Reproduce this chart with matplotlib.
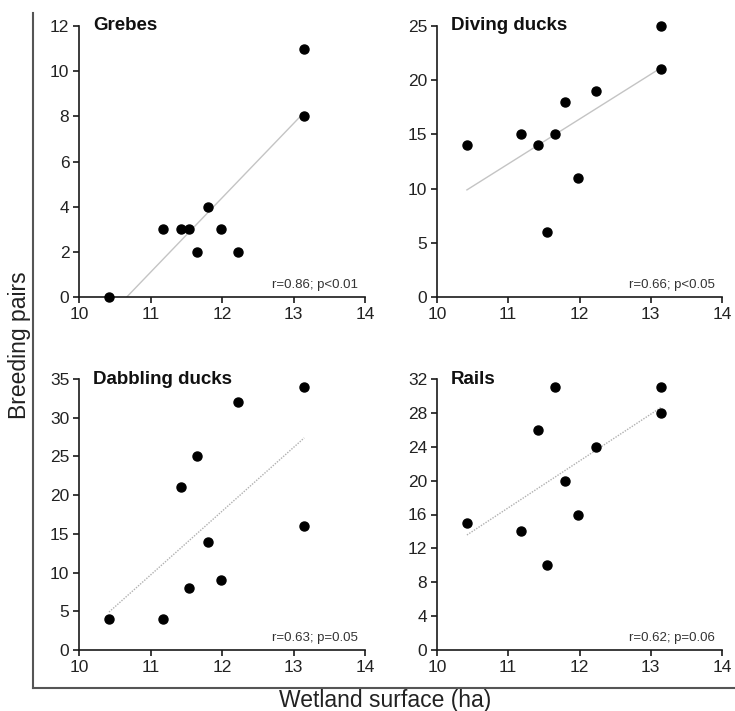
import numpy as np
import matplotlib.pyplot as plt
from matplotlib.lines import Line2D

plt.rcParams['font.family'] = ['Liberation Sans', 'DejaVu Sans']

# wetland surface (ha) for the ten wetlands, shared by all panels
surface = [10.42, 11.18, 11.42, 11.54, 11.65, 11.80, 11.98, 12.23, 13.15, 13.15]

grebes = [0, 3, 3, 3, 2, 4, 3, 2, 11, 8]
diving = [14, 15, 14, 6, 15, 18, 11, 19, 25, 21]
dabbling = [4, 4, 21, 8, 25, 14, 9, 32, 34, 16]
rails = [15, 14, 26, 10, 31, 20, 16, 24, 31, 28]

titles = ['Grebes', 'Diving ducks', 'Dabbling ducks', 'Rails']
stats = ['r=0.86; p<0.01', 'r=0.66; p<0.05', 'r=0.63; p=0.05', 'r=0.62; p=0.06']
ymax = [12, 25, 35, 32]
ystep = [2, 5, 5, 4]
series = [grebes, diving, dabbling, rails]

W, H = 735, 711
fig = plt.figure(figsize=(W / 100, H / 100), dpi=100)

# panel boxes in pixels: left, top, right, bottom
boxes = [(79, 26, 365, 297), (437, 26, 722, 297),
         (79, 379, 365, 650), (437, 379, 722, 650)]

x = np.array(surface)
for i, (l, t, r, b) in enumerate(boxes):
    ax = fig.add_axes([l / W, (H - b) / H, (r - l) / W, (b - t) / H])
    y = np.array(series[i])
    k, c = np.polyfit(x, y, 1)
    xs = np.array([x.min(), x.max()])
    if i < 2:
        ax.plot(xs, k * xs + c, color='#c4c4c4', lw=1.0)
    else:
        ax.plot(xs, k * xs + c, color='#b0b0b0', lw=1.0, ls=(0, (1, 1)))
    ax.plot(x, y, 'o', color='black', ms=6.5, clip_on=False, zorder=3)

    ax.set_xlim(10, 14)
    ax.set_ylim(0, ymax[i])
    ax.set_xticks(np.arange(10, 15, 1))
    ax.set_yticks(np.arange(0, ymax[i] + 0.1, ystep[i]))
    for s in ['top', 'right']:
        ax.spines[s].set_visible(False)
    for s in ['left', 'bottom']:
        ax.spines[s].set_color('#1a1a1a')
        ax.spines[s].set_linewidth(1.2)
    ax.tick_params(direction='out', length=4, width=1.2, color='#1a1a1a',
                   labelsize=12.5, labelcolor='#222222', pad=3)

    ax.text(0.05, 1.0, titles[i], transform=ax.transAxes, fontsize=13.5,
            fontweight='bold', ha='left', va='center', color='#111111')
    ax.text(0.975, 0.045, stats[i], transform=ax.transAxes, fontsize=9.5,
            ha='right', va='center', color='#333333')

# outer frame holding the common axis labels
fig.add_artist(Line2D([33 / W, 33 / W], [(H - 13) / H, (H - 688) / H],
                      color='#555555', lw=1.5))
fig.add_artist(Line2D([33 / W, 1.0], [(H - 688) / H, (H - 688) / H],
                      color='#555555', lw=1.5))

fig.text(20 / W, (H - 345) / H, 'Breeding pairs', rotation=90,
         ha='center', va='center', fontsize=16.5, color='#222222')
fig.text(385 / W, (H - 700) / H, 'Wetland surface (ha)',
         ha='center', va='center', fontsize=16.5, color='#222222')

fig.savefig('out.png', dpi=100)
